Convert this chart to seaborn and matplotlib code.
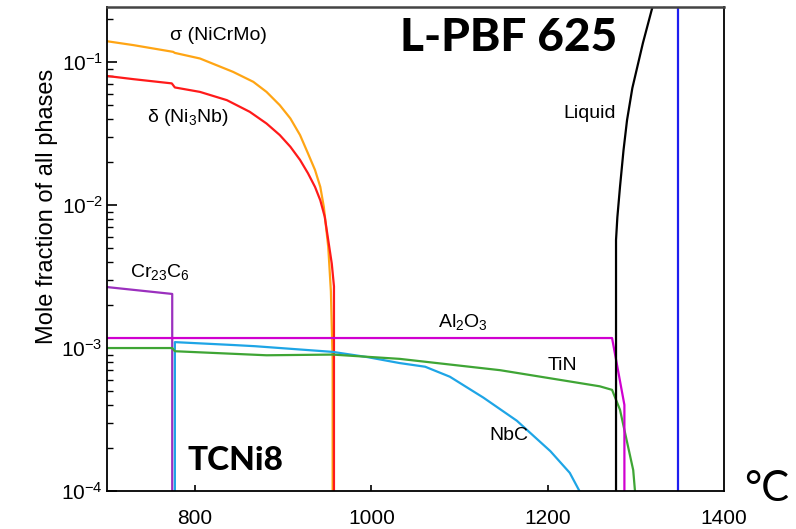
import numpy as np
import pandas as pd
import matplotlib
matplotlib.use("Agg")
import matplotlib.pyplot as plt
import seaborn as sns
from matplotlib.ticker import LogLocator, NullFormatter

# ---------------- data ----------------
sigma_T = [700, 730, 775, 777, 805.5, 843, 866, 881, 896, 908, 919, 928, 936, 942, 946,
           951, 954, 956, 956]
sigma_v = [0.140, 0.1315, 0.118, 0.116, 0.106, 0.0855, 0.0728, 0.0619, 0.050, 0.0404,
           0.0309, 0.0230, 0.0176, 0.0134, 0.0097, 0.0051, 0.0025, 0.00082, 1e-6]

delta_T = [700, 730, 773.5, 777, 805.5, 836, 862, 881, 896, 908, 919, 928, 936, 942,
           947, 955, 957.5, 957.5]
delta_v = [0.080, 0.076, 0.071, 0.0665, 0.0619, 0.0542, 0.0449, 0.0372, 0.0309, 0.0256,
           0.0207, 0.0167, 0.0134, 0.0108, 0.0083, 0.0039, 0.0027, 1e-6]

cr_T = [700, 774, 774]
cr_v = [2.67e-3, 2.39e-3, 1e-6]

nbc_T = [777, 777, 843, 868, 956, 995, 1032, 1061, 1089, 1127, 1165, 1203, 1225, 1236, 1240]
nbc_v = [1e-6, 1.10e-3, 1.05e-3, 1.03e-3, 0.94e-3, 0.865e-3, 0.785e-3, 0.74e-3, 0.63e-3,
         0.45e-3, 0.31e-3, 0.19e-3, 0.134e-3, 1.0e-4, 8e-5]

tin_T = [700, 774, 777, 881, 956, 1032, 1146, 1259, 1273, 1282, 1297, 1299, 1301]
tin_v = [1.0e-3, 1.0e-3, 0.95e-3, 0.89e-3, 0.90e-3, 0.84e-3, 0.70e-3, 0.54e-3, 0.51e-3,
         0.37e-3, 0.14e-3, 1e-4, 1e-6]

al_T = [700, 1273, 1287, 1287]
al_v = [1.175e-3, 1.175e-3, 4.0e-4, 1e-6]

liq_T = [1277.5, 1277.5, 1279, 1282, 1286, 1290, 1296, 1308, 1319]
liq_v = [1e-6, 5.7e-3, 8.2e-3, 0.0134, 0.0242, 0.0393, 0.0658, 0.136, 0.245]

fcc_T = [1348, 1348]
fcc_v = [1e-6, 1.0]

phases = ["sigma", "delta", "Cr23C6", "NbC", "TiN", "Al2O3", "Liquid", "FCC"]
colors = {"sigma": "#FFA514", "delta": "#FF1A1A", "Cr23C6": "#9B30BE",
          "NbC": "#1EA5E6", "TiN": "#3FA535", "Al2O3": "#D000D0",
          "Liquid": "#000000", "FCC": "#1E1EF0"}

x_ticks = [800, 1000, 1200, 1400]
x_ticklabels = ["800", "1000", "1200", "1400"]
y_ticks = [1e-4, 1e-3, 1e-2, 1e-1]
y_ticklabels = [r"$10^{-4}$", r"$10^{-3}$", r"$10^{-2}$", r"$10^{-1}$"]

# ---------------- build table ----------------
series = [(phases[0], sigma_T, sigma_v), (phases[1], delta_T, delta_v),
          (phases[2], cr_T, cr_v), (phases[3], nbc_T, nbc_v),
          (phases[4], tin_T, tin_v), (phases[5], al_T, al_v),
          (phases[6], liq_T, liq_v), (phases[7], fcc_T, fcc_v)]
df = pd.concat([pd.DataFrame({"T": T, "frac": v, "phase": n}) for n, T, v in series],
               ignore_index=True)

# ---------------- style ----------------
sns.set_theme(style="ticks")
plt.rcParams["font.family"] = ["Liberation Sans", "DejaVu Sans"]
plt.rcParams["text.color"] = "black"
plt.rcParams["axes.labelcolor"] = "black"
plt.rcParams["xtick.color"] = "black"
plt.rcParams["ytick.color"] = "black"
plt.rcParams["mathtext.fontset"] = "custom"
plt.rcParams["mathtext.rm"] = "Liberation Sans"
plt.rcParams["mathtext.it"] = "Liberation Sans:italic"
plt.rcParams["mathtext.bf"] = "Liberation Sans:bold"
plt.rcParams["mathtext.default"] = "regular"

W, H = 796, 529
fig = plt.figure(figsize=(W / 100, H / 100), dpi=100)
L, R, B, Tp = 107, 724, 491, 7
ax = fig.add_axes([L / W, 1 - B / H, (R - L) / W, (B - Tp) / H])
ax.set_yscale("log")

sns.lineplot(data=df, x="T", y="frac", hue="phase", palette=colors,
             hue_order=phases, estimator=None, sort=False, legend=False,
             linewidth=1.6, ax=ax)

ax.set_xlim(700, 1400)
ax.set_ylim(1e-4, 0.243)
ax.set_xticks(x_ticks[:3], x_ticklabels[:3])
ax.set_yticks(y_ticks, y_ticklabels)
ax.yaxis.set_minor_locator(LogLocator(base=10, subs=np.arange(2, 10)))
ax.yaxis.set_minor_formatter(NullFormatter())

ax.tick_params(axis="both", which="both", direction="in", labelsize=15,
               color="black", labelcolor="black", top=False, right=False)
ax.tick_params(axis="y", which="major", length=7, width=1.2, pad=3)
ax.tick_params(axis="y", which="minor", length=4, width=1.0)
ax.tick_params(axis="x", which="major", length=4, width=1.2, pad=13)

for s in ax.spines.values():
    s.set_visible(True)
    s.set_color("black")
    s.set_linewidth(1.3)
ax.spines["top"].set_color("#444444")
ax.spines["top"].set_linewidth(1.8)

ax.set_xlabel("")
ax.set_ylabel("Mole fraction of all phases", fontsize=17, va="center", color="black")
ax.yaxis.set_label_coords((47 - L) / (R - L), (B - 206) / (B - Tp))

# 1400 label under the right spine
fig.text(724 / W, 1 - 518 / H, x_ticklabels[3], fontsize=15, ha="center", va="center",
         color="black")


def ptext(px, py, s, **kw):
    fig.text(px / W, 1 - py / H, s, ha="center", va="center", color="black", **kw)


ptext(218, 35, "σ (NiCrMo)", fontsize=14)
ptext(188, 118, r"δ (Ni$_3$Nb)", fontsize=14)
ptext(160, 272, r"Cr$_{23}$C$_6$", fontsize=14)
ptext(463, 322, r"Al$_2$O$_3$", fontsize=14)
ptext(562, 365, "TiN", fontsize=14)
ptext(509, 436, "NbC", fontsize=14)
ptext(590, 113, "Liquid", fontsize=14)
ptext(509, 38, "L-PBF 625", fontsize=33, fontweight="black", family=["Lato", "DejaVu Sans"])
ptext(235, 461, "TCNi8", fontsize=24, fontweight="black", family=["Lato", "DejaVu Sans"])
ptext(767, 489, "°C", fontsize=30, family=["Lato", "DejaVu Sans"])

fig.savefig("out.png", dpi=100)
